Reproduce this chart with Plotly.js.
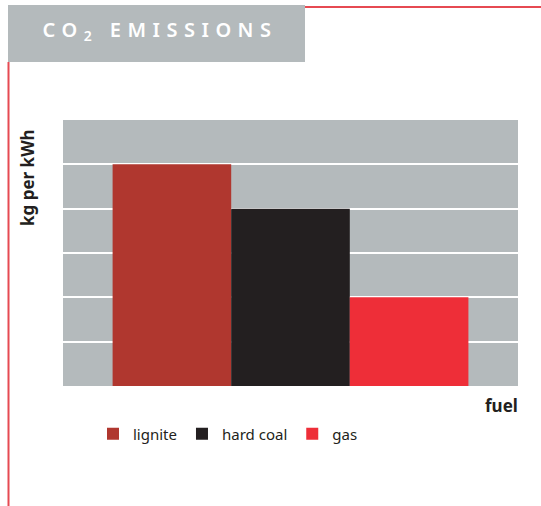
<!DOCTYPE html>
<html>
<head>
<meta charset="utf-8">
<script src="https://cdn.plot.ly/plotly-3.0.1.min.js"></script>
<style>
  html, body { margin: 0; padding: 0; background: #ffffff; }
  #chart { width: 541px; height: 506px; }
  .gtitle { letter-spacing: 6.5px; font-weight: 600 !important; }
</style>
</head>
<body>
<div id="chart"></div>
<script>
// CO2 emitted per kWh of electricity, by fuel
const fuels = ['lignite', 'hard coal', 'gas'];
const emissions = [1.0, 0.8, 0.4];
const fuelColors = ['#b0372f', '#231f20', '#ee2e38'];

const panelGray = '#b4babc';
const accentRed = '#e64a52';

// plot area geometry in pixels, used to place decorations in paper units
const W = 541, H = 506;
const L = 63, R = 23, T = 120, B = 120;
const pw = W - L - R, ph = H - T - B;
const px = x => (x - L) / pw;
const py = y => (H - B - y) / ph;

const traces = fuels.map((name, i) => ({
  type: 'bar',
  name: name,
  x: ['fuel'],
  y: [emissions[i]],
  marker: { color: fuelColors[i], line: { width: 0 } },
  hoverinfo: 'name+y'
}));

const layout = {
  width: W,
  height: H,
  margin: { l: L, r: R, t: T, b: B, pad: 0 },
  paper_bgcolor: '#ffffff',
  plot_bgcolor: panelGray,
  barmode: 'group',
  bargap: 0.218,
  bargroupgap: 0,
  font: { family: 'Noto Sans, sans-serif', color: '#231f20' },
  title: {
    text: 'CO<sub>2</sub> EMISSIONS',
    font: { family: 'Noto Sans, sans-serif', size: 20, color: '#ffffff' },
    xref: 'container', yref: 'container',
    x: 160 / W, xanchor: 'center',
    y: 1 - 30 / H, yanchor: 'middle'
  },
  xaxis: {
    type: 'category',
    showticklabels: false,
    showgrid: false,
    zeroline: false,
    showline: false,
    ticks: ''
  },
  yaxis: {
    range: [0, 1.2],
    dtick: 0.2,
    showticklabels: false,
    showgrid: true,
    gridcolor: '#ffffff',
    gridwidth: 2,
    zeroline: false,
    showline: false,
    ticks: ''
  },
  showlegend: true,
  legend: {
    orientation: 'h',
    x: px(93), xanchor: 'left',
    y: py(434), yanchor: 'middle',
    font: { family: 'Noto Sans, sans-serif', size: 15, color: '#231f20' },
    bgcolor: 'rgba(0,0,0,0)',
    traceorder: 'normal'
  },
  shapes: [
    // gray title block
    { type: 'rect', xref: 'paper', yref: 'paper', layer: 'below',
      x0: px(8), x1: px(305), y0: py(62), y1: py(5),
      fillcolor: panelGray, line: { width: 0 } },
    // red rule running right from the title block
    { type: 'line', xref: 'paper', yref: 'paper',
      x0: px(305), x1: px(541), y0: py(7), y1: py(7),
      line: { color: accentRed, width: 2 } },
    // red rule running down the left side
    { type: 'line', xref: 'paper', yref: 'paper',
      x0: px(8.5), x1: px(8.5), y0: py(62), y1: py(506),
      line: { color: accentRed, width: 2 } }
  ],
  annotations: [
    { text: '<b>kg per kWh</b>', textangle: -90, showarrow: false,
      xref: 'paper', yref: 'paper', x: px(27), y: py(178),
      xanchor: 'center', yanchor: 'middle',
      font: { family: 'Noto Sans, sans-serif', size: 17, color: '#231f20' } },
    { text: '<b>fuel</b>', showarrow: false,
      xref: 'paper', yref: 'paper', x: px(520), y: py(405),
      xanchor: 'right', yanchor: 'middle',
      font: { family: 'Noto Sans, sans-serif', size: 17, color: '#231f20' } }
  ]
};

Plotly.newPlot('chart', traces, layout, { displayModeBar: false, staticPlot: true });
</script>
</body>
</html>
